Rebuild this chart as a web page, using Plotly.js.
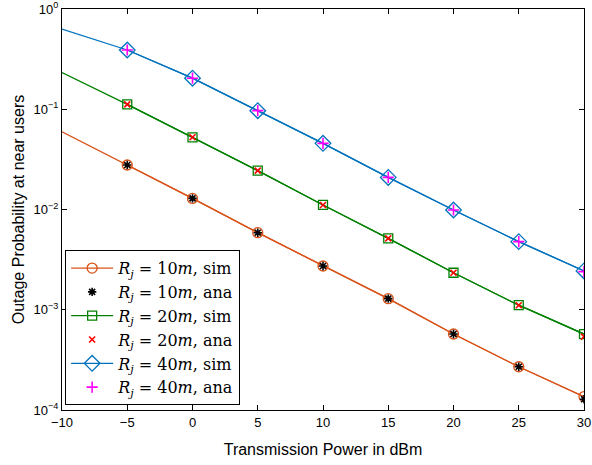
<!DOCTYPE html>
<html>
<head>
<meta charset="utf-8">
<script src="https://cdn.plot.ly/plotly-3.0.1.min.js"></script>
<style>html,body{margin:0;padding:0;background:#fff}#chart{width:592px;height:465px}</style>
</head>
<body>
<div id="chart"></div>
<script>
// Transmission power (dBm)
var powerLine = [-10, -5, 0, 5, 10, 15, 20, 25, 30];
var powerMarks = [-5, 0, 5, 10, 15, 20, 25, 30];

// Simulated outage probability (line values incl. -10 dBm start)
var sim10 = [0.0597, 0.0278, 0.0129, 0.00587, 0.00273, 0.00129, 0.000573, 0.00027, 0.000136];
var sim20 = [0.232, 0.112, 0.0525, 0.0244, 0.0111, 0.00516, 0.00234, 0.00111, 0.000572];
var sim40 = [0.63, 0.39, 0.204, 0.0968, 0.0457, 0.0209, 0.00989, 0.00478, 0.00244];

// Analytical outage probability
var ana10 = [0.0278, 0.0129, 0.00587, 0.00273, 0.00129, 0.000573, 0.00027, 0.000128];
var ana20 = [0.112, 0.0525, 0.0244, 0.0111, 0.00516, 0.00234, 0.00111, 0.00054];
var ana40 = [0.39, 0.204, 0.0968, 0.0457, 0.0209, 0.00989, 0.00478, 0.0024];

// Axis tick labels
var xTickVals = [-10, -5, 0, 5, 10, 15, 20, 25, 30];
var xTickText = ['\u221210', '\u22125', '0', '5', '10', '15', '20', '25', '30'];
var yTickVals = [1e-4, 1e-3, 1e-2, 1e-1, 1];
var yTickText = ['10<sup>\u22124</sup>', '10<sup>\u22123</sup>', '10<sup>\u22122</sup>', '10<sup>\u22121</sup>', '10<sup>0</sup>'];

var legendLabels = [
  '<i>R<sub>j</sub></i> = 10<i>m</i>, sim',
  '<i>R<sub>j</sub></i> = 10<i>m</i>, ana',
  '<i>R<sub>j</sub></i> = 20<i>m</i>, sim',
  '<i>R<sub>j</sub></i> = 20<i>m</i>, ana',
  '<i>R<sub>j</sub></i> = 40<i>m</i>, sim',
  '<i>R<sub>j</sub></i> = 40<i>m</i>, ana'
];

var cOrange = '#D95319', cGreen = '#008000', cBlue = '#0072BD';

function lineOnly(y, color) {
  return {x: powerLine, y: y, mode: 'lines', showlegend: false, hoverinfo: 'skip',
          line: {color: color, width: 1.3}};
}
function simTrace(y, color, symbol, size, name) {
  return {x: powerMarks, y: y.slice(1), mode: 'lines+markers', name: name,
          line: {color: color, width: 1.3},
          marker: {symbol: symbol, size: size, color: color, line: {width: 1.3}}};
}
function anaTrace(y, color, symbol, size, name) {
  return {x: powerMarks, y: y, mode: 'markers', name: name,
          marker: {symbol: symbol, size: size, color: color, line: {color: color, width: 1.6}}};
}

var data = [
  lineOnly(sim10, cOrange), lineOnly(sim20, cGreen), lineOnly(sim40, cBlue),
  simTrace(sim10, cOrange, 'circle-open', 10, legendLabels[0]),
  anaTrace(ana10, '#000000', 'asterisk-open', 7, legendLabels[1]),
  simTrace(sim20, cGreen, 'square-open', 9, legendLabels[2]),
  anaTrace(ana20, '#FF0000', 'x-thin-open', 6, legendLabels[3]),
  simTrace(sim40, cBlue, 'diamond-open', 12, legendLabels[4]),
  anaTrace(ana40, '#FF00FF', 'cross-thin-open', 8, legendLabels[5])
];

// minor tick positions for the log axis (2..9 in each decade)
var minorVals = [];
for (var e = -4; e < 0; e++) { for (var m = 2; m <= 9; m++) { minorVals.push(m * Math.pow(10, e)); } }

var axisFont = {family: 'Liberation Sans, Arial, sans-serif', size: 13, color: '#000'};

var layout = {
  width: 592, height: 465,
  margin: {l: 62, r: 8, t: 9, b: 55},
  paper_bgcolor: '#fff', plot_bgcolor: '#fff',
  showlegend: true,
  xaxis: {
    range: [-10, 30], tickmode: 'array', tickvals: xTickVals, ticktext: xTickText,
    ticks: 'inside', ticklen: 5, tickcolor: '#000', showgrid: false, zeroline: false,
    showline: true, linecolor: '#000', linewidth: 1, mirror: 'ticks',
    tickfont: axisFont,
    title: {text: 'Transmission Power in dBm', font: {family: 'Liberation Sans, Arial, sans-serif', size: 16, color: '#000'}, standoff: 15}
  },
  yaxis: {
    type: 'log', range: [-4, 0], tickmode: 'array', tickvals: yTickVals, ticktext: yTickText,
    ticks: 'inside', ticklen: 5, tickcolor: '#000', showgrid: false, zeroline: false,
    showline: true, linecolor: '#000', linewidth: 1, mirror: 'ticks',
    tickfont: axisFont,
    title: {text: 'Outage Probability at near users', font: {family: 'Liberation Sans, Arial, sans-serif', size: 16, color: '#000'}, standoff: 4}
  },
  yaxis2: {
    type: 'log', range: [-4, 0], overlaying: 'y', anchor: 'x', side: 'left',
    tickmode: 'array', tickvals: minorVals, showticklabels: false,
    ticks: 'inside', ticklen: 3, tickcolor: '#000', showgrid: false, zeroline: false,
    showline: true, linecolor: '#000', linewidth: 1, mirror: 'ticks'
  },
  legend: {
    x: 0.006, y: 0.012, xanchor: 'left', yanchor: 'bottom',
    bgcolor: '#fff', bordercolor: '#000', borderwidth: 1,
    font: {family: 'DejaVu Serif, Liberation Serif, serif', size: 16, color: '#000'},
    itemwidth: 42, tracegroupgap: 0
  }
};

Plotly.newPlot('chart', data, layout, {staticPlot: true});
</script>
</body>
</html>
